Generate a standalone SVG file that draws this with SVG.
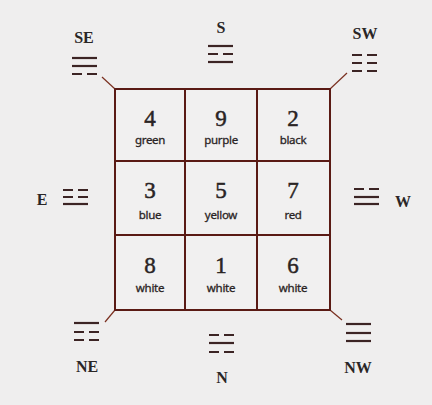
<svg xmlns="http://www.w3.org/2000/svg" xmlns:xlink="http://www.w3.org/1999/xlink" width="432" height="405" viewBox="0 0 432 405">
<style>
.dir{font-family:"Liberation Serif",serif;font-size:16px;fill:#2a2626;text-anchor:middle;font-weight:bold}
.num{font-family:"Liberation Serif",serif;font-size:23px;fill:#2a2424;stroke:#2a2424;stroke-width:0.5;text-anchor:middle}
.lab{font-family:"Noto Sans",sans-serif;font-size:11.5px;fill:#2a2424;stroke:#2a2424;stroke-width:0.3;text-anchor:middle;letter-spacing:-0.3px}
.cell{fill:#f1f0f0;stroke:#5a1a14;stroke-width:2}
.con{stroke:#7a3020;stroke-width:1.2;fill:none}
.tri{stroke:#3c2424;stroke-width:2.2;fill:none}
</style>
<defs>
<path id="yang" d="M0 0h25"/>
<path id="yin" d="M0 0h10M15 0h10"/>
</defs>
<rect width="432" height="405" fill="#efeeee"/>
<g id="connectors" class="con">
<line x1="102" y1="77" x2="115" y2="89"/>
<line x1="347" y1="73" x2="330" y2="89"/>
<line x1="105" y1="322" x2="115" y2="310"/>
<line x1="342" y1="320" x2="330" y2="310"/>
</g>
<g id="cell-4"><rect class="cell" x="115" y="89" width="70" height="72"/><text class="num" x="150" y="126">4</text><text class="lab" x="150" y="144">green</text></g>
<g id="cell-9"><rect class="cell" x="185" y="89" width="72" height="72"/><text class="num" x="221" y="126">9</text><text class="lab" x="221" y="144">purple</text></g>
<g id="cell-2"><rect class="cell" x="257" y="89" width="73" height="72"/><text class="num" x="293" y="126">2</text><text class="lab" x="293" y="144">black</text></g>
<g id="cell-3"><rect class="cell" x="115" y="161" width="70" height="74"/><text class="num" x="150" y="198">3</text><text class="lab" x="150" y="219">blue</text></g>
<g id="cell-5"><rect class="cell" x="185" y="161" width="72" height="74"/><text class="num" x="221" y="198">5</text><text class="lab" x="221" y="219">yellow</text></g>
<g id="cell-7"><rect class="cell" x="257" y="161" width="73" height="74"/><text class="num" x="293" y="198">7</text><text class="lab" x="293" y="219">red</text></g>
<g id="cell-8"><rect class="cell" x="115" y="235" width="70" height="75"/><text class="num" x="150" y="273">8</text><text class="lab" x="150" y="292">white</text></g>
<g id="cell-1"><rect class="cell" x="185" y="235" width="72" height="75"/><text class="num" x="221" y="273">1</text><text class="lab" x="221" y="292">white</text></g>
<g id="cell-6"><rect class="cell" x="257" y="235" width="73" height="75"/><text class="num" x="293" y="273">6</text><text class="lab" x="293" y="292">white</text></g>
<g id="dir-SE"><text class="dir" x="84" y="43">SE</text><g class="tri"><use xlink:href="#yang" x="72" y="58"/><use xlink:href="#yang" x="72" y="66"/><use xlink:href="#yin" x="72" y="74"/></g></g>
<g id="dir-S"><text class="dir" x="221" y="33">S</text><g class="tri"><use xlink:href="#yang" x="208" y="46"/><use xlink:href="#yin" x="208" y="54"/><use xlink:href="#yang" x="208" y="62"/></g></g>
<g id="dir-SW"><text class="dir" x="365" y="39">SW</text><g class="tri"><use xlink:href="#yin" x="352" y="55"/><use xlink:href="#yin" x="352" y="63"/><use xlink:href="#yin" x="352" y="71"/></g></g>
<g id="dir-E"><text class="dir" x="42" y="205">E</text><g class="tri"><use xlink:href="#yin" x="63" y="190"/><use xlink:href="#yin" x="63" y="197"/><use xlink:href="#yang" x="63" y="204"/></g></g>
<g id="dir-W"><text class="dir" x="403" y="207">W</text><g class="tri"><use xlink:href="#yin" x="354" y="189"/><use xlink:href="#yang" x="354" y="197"/><use xlink:href="#yang" x="354" y="204"/></g></g>
<g id="dir-NE"><text class="dir" x="87" y="372">NE</text><g class="tri"><use xlink:href="#yang" x="74" y="323"/><use xlink:href="#yin" x="74" y="332"/><use xlink:href="#yin" x="74" y="340"/></g></g>
<g id="dir-N"><text class="dir" x="222" y="383">N</text><g class="tri"><use xlink:href="#yin" x="209" y="335"/><use xlink:href="#yang" x="209" y="343"/><use xlink:href="#yin" x="209" y="352"/></g></g>
<g id="dir-NW"><text class="dir" x="358" y="373">NW</text><g class="tri"><use xlink:href="#yang" x="346" y="324"/><use xlink:href="#yang" x="346" y="333"/><use xlink:href="#yang" x="346" y="341"/></g></g>
</svg>
